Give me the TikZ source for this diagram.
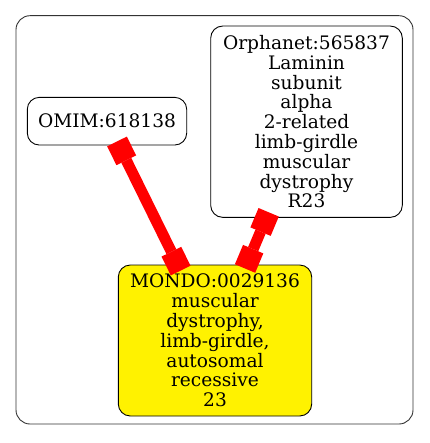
\documentclass[tikz,border=0pt]{standalone}
\usepackage{fontspec}
\setmainfont{DejaVu Serif}
\usetikzlibrary{arrows.meta}
\begin{document}
\begin{tikzpicture}[x=1pt,y=-1pt,
  gnode/.style={draw=black, line width=0.9pt, rounded corners=12pt, align=center, inner sep=0pt,
    font=\fontsize{18.6}{19.8}\selectfont},
  link/.style={draw=red, line width=11pt,
    {Rectangle[length=21pt,width=22pt,line width=0pt 0 0]}-{Rectangle[length=21pt,width=22pt,line width=0pt 0 0]}}]
\useasboundingbox (0,0) rectangle (429,443);
\draw[line width=0.9pt, draw=black!80, rounded corners=14pt] (16,15.7) rectangle (413,424);
\node[gnode, minimum width=159.4pt, minimum height=47.7pt] (omim) at (107,121.2) {OMIM:618138};
\node[gnode, minimum width=191.6pt, minimum height=191.3pt] (orph) at (306.5,121.7)
  {Orphanet:565837\\Laminin\\subunit\\alpha\\2-related\\limb-girdle\\muscular\\dystrophy\\R23};
\node[gnode, fill=yellow, minimum width=193.4pt, minimum height=151pt] (mondo) at (215,340.5)
  {MONDO:0029136\\muscular\\dystrophy,\\limb-girdle,\\autosomal\\recessive\\23};
\draw[link, shorten <=-4.5pt, shorten >=-6.7pt] (omim) -- (mondo);
\draw[link, shorten <=-6pt, shorten >=-4.3pt] (orph) -- (mondo);
\end{tikzpicture}
\end{document}
